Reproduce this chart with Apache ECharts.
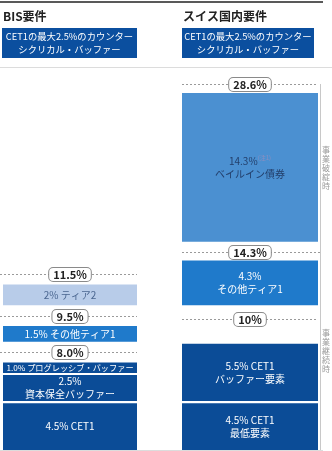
<!DOCTYPE html>
<html><head><meta charset="utf-8">
<script src="https://cdn.jsdelivr.net/npm/echarts@6/dist/echarts.min.js"></script>
<style>html,body{margin:0;padding:0;background:#fff}#c{width:332px;height:451px}</style>
</head><body><div id="c"></div>
<script>
// ---- data ----
const bisTitle = 'BIS要件';
const swissTitle = 'スイス国内要件';
const headerLines = ['CET1の最大2.5%のカウンター', 'シクリカル・バッファー'];
const bisValues = [4.5, 2.5, 1.0, 1.5, 2];
const bisLabels = ['4.5% CET1', '2.5%\n資本保全バッファー', '1.0% プログレッシブ・バッファー', '1.5% その他ティア1', '2% ティア2'];
const bisTotals = ['8.0%', '9.5%', '11.5%'];
const bisTotalAfter = [2, 3, 4];
const swissValues = [4.5, 5.5, 4.3, 14.3];
const swissLabels = ['4.5% CET1\n最低要素', '5.5% CET1\nバッファー要素', '4.3%\nその他ティア1', '14.3%{sup|(注1)}\nベイルイン債券'];
const swissTotals = ['10%', '14.3%', '28.6%'];
const swissTotalAfter = [1, 2, 3];
const sideLabels = ['事業破綻時', '事業継続時'];

// ---- layout / style ----
const FONT = '"Noto Sans CJK JP", "Noto Sans", sans-serif';
const NAVY = '#0b4c97', MID = '#1f7acb', BAIL = '#4b90d1', T2 = '#b8cce9';
const bisColors = [NAVY, NAVY, NAVY, MID, T2];
const bisText = ['#fff', '#fff', '#fff', '#fff', '#4a6690'];
const swissColors = [NAVY, NAVY, MID, BAIL];
const swissText = ['#fff', '#fff', '#fff', '#233f6b'];
const cols = [
  {x0: 3, x1: 137, lx0: 0, lx1: 137, below: [1.0, 1.0, 1.0], above: [1.0, 1.0]},
  {x0: 182, x1: 318, lx0: 182, lx1: 318, below: [2.4, 0.8, 0.9], above: [1.3, 1.0]}
];
const BAR_GAP = 0.2;

function build(values, after, below, above) {
  let y = 0; const bars = [], lines = [];
  values.forEach((v, i) => {
    bars.push([y, y + v]); y += v;
    const k = after.indexOf(i);
    if (k >= 0) { y += below[k]; lines.push(y); if (i < values.length - 1) y += above[k]; }
    else y += BAR_GAP;
  });
  return {bars, lines};
}
const L = build(bisValues, bisTotalAfter, cols[0].below, cols[0].above);
const R = build(swissValues, swissTotalAfter, cols[1].below, cols[1].above);

const barData = [], barInfo = [];
L.bars.forEach((b, i) => { barData.push([cols[0].x0, cols[0].x1, b[0], b[1]]); barInfo.push({label: bisLabels[i], color: bisColors[i], tc: bisText[i], fs: i === 2 ? 8.2 : 10}); });
R.bars.forEach((b, i) => { barData.push([cols[1].x0, cols[1].x1, b[0], b[1]]); barInfo.push({label: swissLabels[i], color: swissColors[i], tc: swissText[i], fs: 10}); });

const lineData = [], lineInfo = [];
L.lines.forEach((y, i) => { lineData.push([cols[0].lx0, cols[0].lx1, y]); lineInfo.push({label: bisTotals[i], cx: (cols[0].x0 + cols[0].x1) / 2}); });
R.lines.forEach((y, i) => { lineData.push([cols[1].lx0, i === 1 ? 320 : cols[1].lx1, y]); lineInfo.push({label: swissTotals[i], cx: (cols[1].x0 + cols[1].x1) / 2}); });

const BR_X = 320;
const bracketData = [[BR_X, R.lines[2], R.lines[1], 0], [BR_X, R.lines[1], 0, 1]];

const chart = echarts.init(document.getElementById('c'), null, {renderer: 'canvas'});
chart.setOption({
  animation: false,
  grid: {left: 0, right: 0, top: 70, bottom: 1},
  xAxis: {type: 'value', min: 0, max: 332, show: false},
  yAxis: {type: 'value', min: 0, max: 36.5, show: false},
  graphic: [
    {type: 'line', shape: {x1: 0, y1: 2, x2: 323, y2: 2}, style: {stroke: '#222', lineWidth: 1.5}},
    {type: 'text', x: 3, y: 10, style: {text: bisTitle, font: 'bold 12px ' + FONT, fill: '#222'}},
    {type: 'text', x: 183, y: 10, style: {text: swissTitle, font: 'bold 12px ' + FONT, fill: '#222'}},
    {type: 'rect', shape: {x: 2, y: 28, width: 135, height: 30}, style: {fill: '#0b4f9f'}},
    {type: 'rect', shape: {x: 182, y: 28, width: 132, height: 30}, style: {fill: '#0b4f9f'}},
    {type: 'text', x: 69.5, y: 43, style: {text: headerLines.join('\n'), font: '9.3px ' + FONT, fill: '#fff', align: 'center', verticalAlign: 'middle', lineHeight: 13}},
    {type: 'text', x: 248, y: 43, style: {text: headerLines.join('\n'), font: '9.3px ' + FONT, fill: '#fff', align: 'center', verticalAlign: 'middle', lineHeight: 13}},
    {type: 'line', shape: {x1: 0, y1: 67.5, x2: 332, y2: 67.5}, style: {stroke: '#dcdcdc', lineWidth: 1}},
    {type: 'line', shape: {x1: 0, y1: 450.5, x2: 323, y2: 450.5}, style: {stroke: '#dcdcdc', lineWidth: 1}}
  ],
  series: [
    {
      type: 'custom', data: barData, encode: {x: [0, 1], y: [2, 3]},
      renderItem: (params, api) => {
        const p0 = api.coord([api.value(0), api.value(3)]);
        const p1 = api.coord([api.value(1), api.value(2)]);
        const d = barInfo[params.dataIndex];
        return {
          type: 'rect', shape: {x: p0[0], y: p0[1], width: p1[0] - p0[0], height: p1[1] - p0[1]},
          style: {fill: d.color},
          textContent: {style: {text: d.label, fill: d.tc, font: d.fs + 'px ' + FONT, align: 'center', verticalAlign: 'middle', lineHeight: 13,
            rich: {sup: {fontSize: 6, fill: '#8a8fc0', verticalAlign: 'top', lineHeight: 13, fontFamily: FONT}}}},
          textConfig: {position: 'inside'}
        };
      }
    },
    {
      type: 'custom', data: lineData, encode: {x: [0, 1], y: 2}, z: 3,
      renderItem: (params, api) => {
        const a = api.coord([api.value(0), api.value(2)]);
        const b = api.coord([api.value(1), api.value(2)]);
        const d = lineInfo[params.dataIndex];
        const c = api.coord([d.cx, api.value(2)]);
        const yy = Math.round(a[1]) + 0.5;
        return {type: 'group', children: [
          {type: 'line', shape: {x1: a[0], y1: yy, x2: b[0], y2: yy}, style: {stroke: '#9a9a9a', lineWidth: 1, lineDash: [2, 2]}},
          {type: 'text', x: c[0], y: yy, z2: 5, style: {text: d.label, font: 'bold 11px ' + FONT, fill: '#222', align: 'center', verticalAlign: 'middle',
            backgroundColor: '#fff', borderColor: '#8a8a8a', borderWidth: 1, borderType: 'dashed', borderRadius: 4, padding: [0, 4, 0, 4], lineHeight: 13}}
        ]};
      }
    },
    {
      type: 'custom', data: bracketData, encode: {x: 0, y: [1, 2]}, z: 1,
      renderItem: (params, api) => {
        const a = api.coord([api.value(0), api.value(1)]);
        const b = api.coord([api.value(0), api.value(2)]);
        const mid = (a[1] + b[1]) / 2;
        const txt = sideLabels[api.value(3)].split('').join('\n');
        return {type: 'group', children: [
          {type: 'line', shape: {x1: a[0] + 0.5, y1: Math.round(a[1]), x2: a[0] + 0.5, y2: b[1]}, style: {stroke: '#c8c8c8', lineWidth: 1}},
          {type: 'text', x: a[0] + 6, y: mid, style: {text: txt, font: '8px ' + FONT, fill: '#9a9a9a', align: 'center', verticalAlign: 'middle', lineHeight: 9}}
        ]};
      }
    }
  ]
});
</script></body></html>
